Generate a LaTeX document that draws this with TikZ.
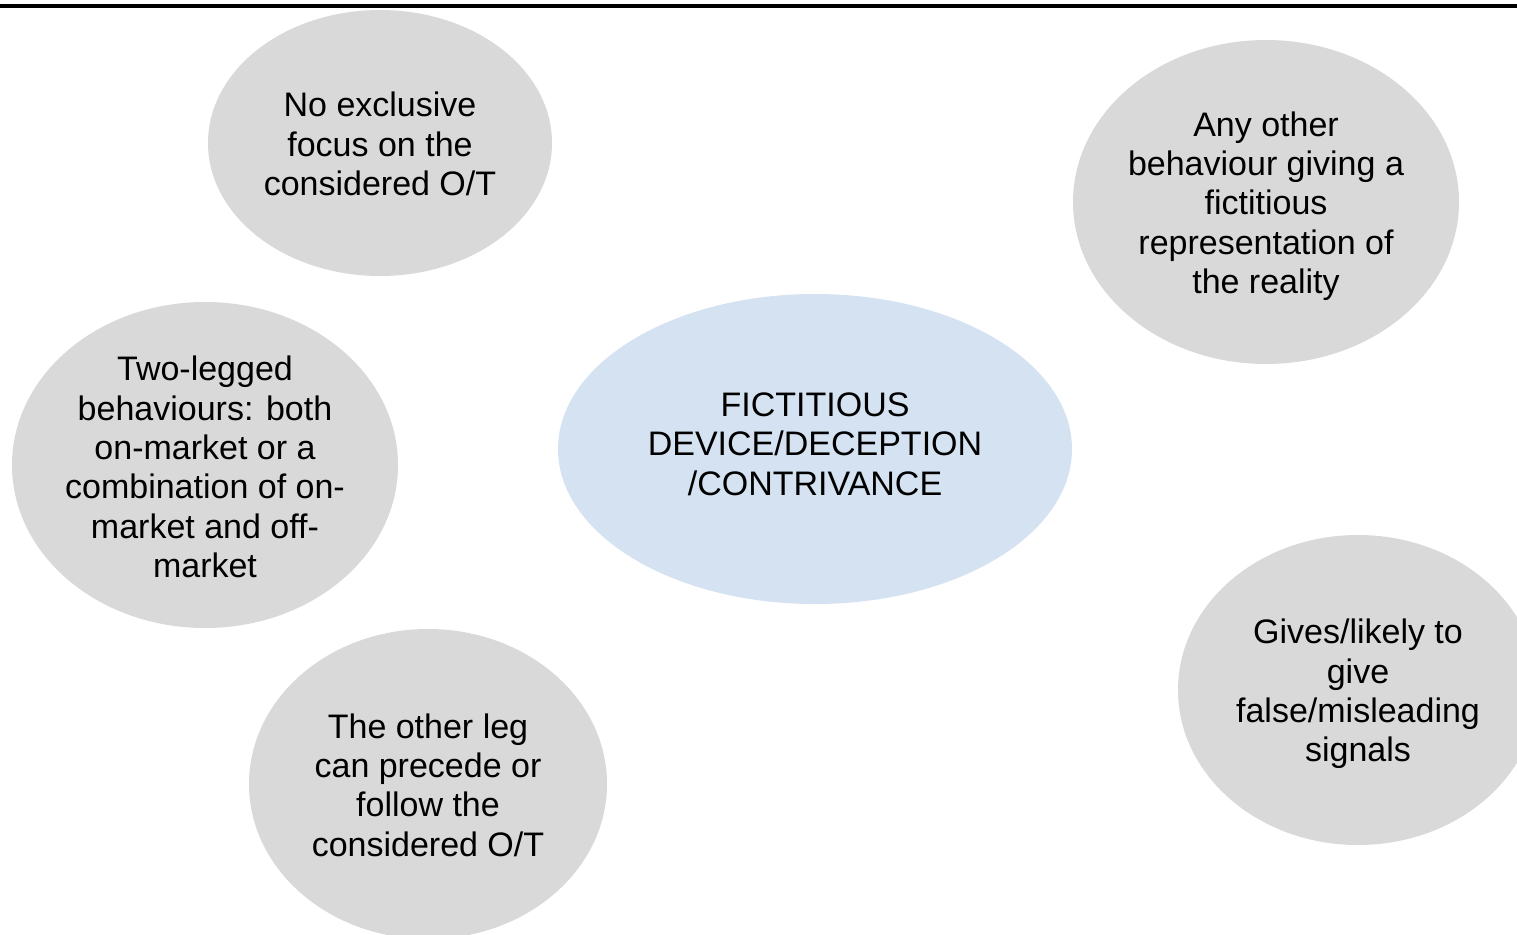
\documentclass[tikz,border=0pt]{standalone}
\usepackage{fontspec}
\setmainfont{Liberation Sans}
\usetikzlibrary{shapes.geometric}
\definecolor{bubblegray}{RGB}{217,217,217}
\definecolor{bubbleblue}{RGB}{212,226,241}
\begin{document}
\begin{tikzpicture}[x=1pt,y=-1pt,
  bubble/.style={ellipse, fill=bubblegray, draw=none, inner sep=0pt},
  core/.style={bubble, fill=bubbleblue},
  txt/.style={inner sep=0pt, align=center, font=\fontsize{34}{39.3}\selectfont, text=black}]
\useasboundingbox (0,0) rectangle (1517,934);
\clip (0,0) rectangle (1517,934);
\fill[white] (0,0) rectangle (1517,934);
\draw[line width=4.5pt] (0,6) coordinate (la) -- (1517,6) coordinate (lb);
\node[bubble, minimum width=344, minimum height=266] (focus) at (380,143) {};
\node[txt] (focus-t) at ([yshift=-1pt]focus.center) {No exclusive\\focus on the\\considered O/T};
\node[bubble, minimum width=386, minimum height=326] (twoleg) at (205,465) {};
\node[txt] (twoleg-t) at ([yshift=-2pt]twoleg.center) {Two-legged\\behaviours: both\\on-market or a\\combination of on-\\market and off-\\market};
\node[bubble, minimum width=358, minimum height=310] (otherleg) at (428,784) {};
\node[txt] (otherleg-t) at ([yshift=-1pt]otherleg.center) {The other leg\\can precede or\\follow the\\considered O/T};
\node[core, minimum width=514, minimum height=310] (center) at (815,449) {};
\node[txt] (center-t) at ([yshift=5pt]center.center) {FICTITIOUS\\DEVICE/DECEPTION\\/CONTRIVANCE};
\node[bubble, minimum width=386, minimum height=324] (anyother) at (1266,202) {};
\node[txt] (anyother-t) at ([yshift=-4pt]anyother.center) {Any other\\behaviour giving a\\fictitious\\representation of\\the reality};
\node[bubble, minimum width=360, minimum height=310] (signals) at (1358,690) {};
\node[txt] (signals-t) at ([yshift=-4pt]signals.center) {Gives/likely to\\give\\false/misleading\\signals};
\end{tikzpicture}
\end{document}
